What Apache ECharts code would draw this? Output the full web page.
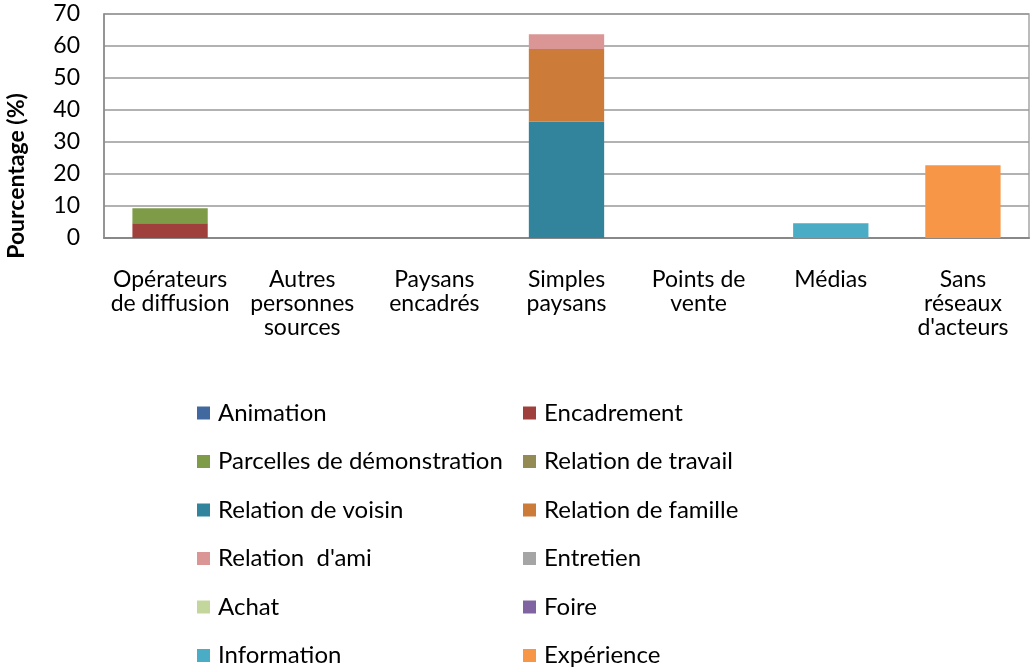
<!DOCTYPE html>
<html>
<head>
<meta charset="utf-8">
<script src="https://cdn.jsdelivr.net/npm/echarts@6/dist/echarts.min.js"></script>
<style>
  html, body { margin: 0; padding: 0; background: #fff; }
  #chart { width: 1031px; height: 669px; }
</style>
</head>
<body>
<div id="chart"></div>
<script>
// categories (x axis)
const categories = [
  'Opérateurs\nde diffusion',
  'Autres\npersonnes\nsources',
  'Paysans\nencadrés',
  'Simples\npaysans',
  'Points de\nvente',
  'Médias',
  'Sans\nréseaux\nd\'acteurs'
]
const yTicks = [0, 10, 20, 30, 40, 50, 60, 70]

// one array per legend entry, values in %
const animation = [0, 0, 0, 0, 0, 0, 0]
const encadrement = [4.6, 0, 0, 0, 0, 0, 0]
const parcelles = [4.7, 0, 0, 0, 0, 0, 0]
const relTravail = [0, 0, 0, 0, 0, 0, 0]
const relVoisin = [0, 0, 0, 36.4, 0, 0, 0]
const relFamille = [0, 0, 0, 22.7, 0, 0, 0]
const relAmi = [0, 0, 0, 4.6, 0, 0, 0]
const entretien = [0, 0, 0, 0, 0, 0, 0]
const achat = [0, 0, 0, 0, 0, 0, 0]
const foire = [0, 0, 0, 0, 0, 0, 0]
const information = [0, 0, 0, 0, 0, 4.6, 0]
const experience = [0, 0, 0, 0, 0, 0, 22.7]

const seriesDefs = [
  ['Animation', animation, '#4169A0'],
  ['Encadrement', encadrement, '#A0403C'],
  ['Parcelles de démonstration', parcelles, '#7E9B48'],
  ['Relation de travail', relTravail, '#948A54'],
  ['Relation de voisin', relVoisin, '#31849B'],
  ['Relation de famille', relFamille, '#CC7B38'],
  ['Relation  d\'ami', relAmi, '#DA9694'],
  ['Entretien', entretien, '#A5A5A5'],
  ['Achat', achat, '#C3D69B'],
  ['Foire', foire, '#8064A2'],
  ['Information', information, '#4BACC6'],
  ['Expérience', experience, '#F79646']
]

const font = 'Lato, "Open Sans", sans-serif'
const legendText = { fontSize: 24, color: '#000', fontFamily: font, lineHeight: 24, padding: [0, 0, 0, 3] }

// two columns of legend, each its own component
function legendCol (left, odd) {
  return {
    orient: 'vertical', left: left, top: 401, padding: 0, itemGap: 24.5,
    itemWidth: 13, itemHeight: 13, icon: 'rect', itemStyle: { borderWidth: 0 },
    textStyle: legendText,
    data: seriesDefs.filter((d, i) => i % 2 === odd).map(d => d[0])
  }
}

const chart = echarts.init(document.getElementById('chart'))
chart.setOption({
  animation: false,
  textStyle: { fontFamily: font },
  grid: {
    left: 104, right: 2, top: 14, bottom: 431,
    show: true, borderColor: '#a6a6a6', borderWidth: 1.5
  },
  legend: [legendCol(197, 0), legendCol(523, 1)],
  graphic: [{
    type: 'text',
    x: 17, y: 176, rotation: Math.PI / 2,
    style: {
      text: 'Pourcentage (%)', fontSize: 23, fontWeight: 'bold', fill: '#000',
      fontFamily: font, align: 'center', verticalAlign: 'middle'
    }
  }],
  xAxis: {
    type: 'category',
    data: categories,
    axisTick: { show: false },
    axisLine: { lineStyle: { color: '#888', width: 2 } },
    axisLabel: { fontSize: 23, color: '#000', lineHeight: 24, margin: 30, interval: 0, fontFamily: font }
  },
  yAxis: {
    type: 'value',
    min: yTicks[0], max: yTicks[yTicks.length - 1], interval: 10,
    axisLine: { show: true, lineStyle: { color: '#888', width: 1.5 } },
    axisTick: { show: false },
    splitLine: { lineStyle: { color: '#999', width: 1.5 } },
    axisLabel: { fontSize: 23, color: '#000', margin: 24, fontFamily: font }
  },
  series: seriesDefs.map(d => ({
    name: d[0],
    type: 'bar',
    stack: 'total',
    barWidth: '57%',
    data: d[1],
    itemStyle: { color: d[2] }
  }))
})
</script>
</body>
</html>
